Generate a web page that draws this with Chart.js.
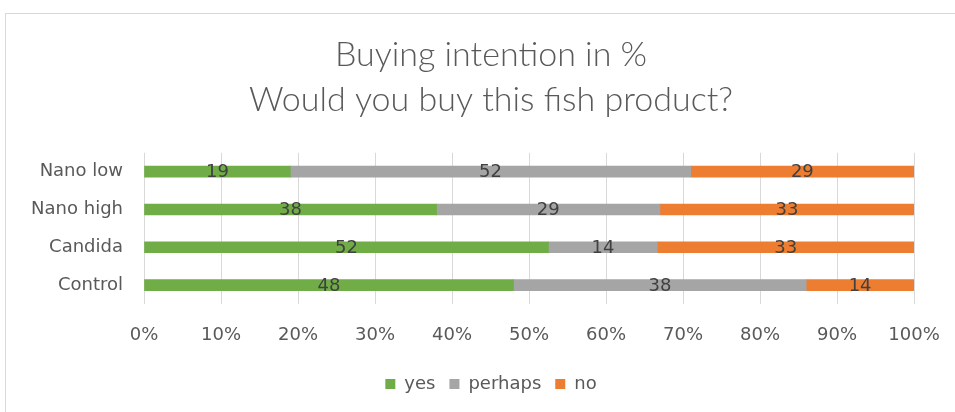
<!DOCTYPE html>
<html>
<head>
<meta charset="utf-8">
<title>Buying intention</title>
<script src="https://cdn.jsdelivr.net/npm/chart.js@4.4.0/dist/chart.umd.min.js"></script>
<style>
  html, body { margin: 0; padding: 0; background: #fff; }
  #wrap { position: relative; width: 955px; height: 412px; overflow: hidden; }
  #frame { position: absolute; left: 5px; top: 13px; width: 980px; height: 440px; border: 1px solid #d9d9d9; }
  #chart { position: absolute; left: 0; top: 0; }
</style>
</head>
<body>
<div id="wrap">
  <div id="frame"></div>
  <canvas id="chart" width="955" height="412"></canvas>
</div>
<script>
// answers per group, in percent (rounded as shown on the bars)
const categories = ['Nano low', 'Nano high', 'Candida', 'Control'];
const yesValues = [19, 38, 52, 48];
const perhapsValues = [52, 29, 14, 38];
const noValues = [29, 33, 33, 14];
const tickLabels = ['0%', '10%', '20%', '30%', '40%', '50%', '60%', '70%', '80%', '90%', '100%'];

const seriesNames = ['yes', 'perhaps', 'no'];
const seriesColors = ['#70ad47', '#a5a5a5', '#ed7d31'];
const seriesValues = [yesValues, perhapsValues, noValues];

// 100% stacked: each row scaled to its own total
const rowTotals = categories.map((c, i) => yesValues[i] + perhapsValues[i] + noValues[i]);

const datasets = seriesValues.map((vals, s) => ({
    label: seriesNames[s],
    data: vals.map((v, i) => v / rowTotals[i] * 100),
    rawValues: vals,
    backgroundColor: seriesColors[s],
    borderWidth: 0,
    barThickness: 11
}));

Chart.defaults.font.family = '"DejaVu Sans", sans-serif';
Chart.defaults.font.size = 18;
Chart.defaults.color = '#595959';

// value labels in the middle of each segment
const barLabels = {
    id: 'barLabels',
    afterDatasetsDraw(chart) {
        const ctx = chart.ctx;
        ctx.save();
        ctx.font = '18px "DejaVu Sans", sans-serif';
        ctx.fillStyle = '#404040';
        ctx.textAlign = 'center';
        ctx.textBaseline = 'middle';
        chart.data.datasets.forEach((ds, di) => {
            chart.getDatasetMeta(di).data.forEach((bar, i) => {
                ctx.fillText(String(ds.rawValues[i]), (bar.x + bar.base) / 2, bar.y + 1);
            });
        });
        ctx.restore();
    }
};

// title and legend are centred on the whole frame, which runs past the right edge
const frameCentre = {
    id: 'frameCentre',
    afterLayout(chart) {
        [chart.titleBlock, chart.legend].forEach(box => {
            box.left = 5;
            box.right = 977;
            box.width = box.right - box.left;
        });
    }
};

new Chart(document.getElementById('chart'), {
    type: 'bar',
    data: { labels: categories, datasets: datasets },
    plugins: [barLabels, frameCentre],
    options: {
        indexAxis: 'y',
        responsive: false,
        animation: false,
        layout: { padding: { top: 0, left: 0, right: 41, bottom: 9 } },
        plugins: {
            title: {
                display: true,
                text: ['Buying intention in %', 'Would you buy this fish product?'],
                color: '#595959',
                font: { family: 'Lato, sans-serif', size: 34, weight: 300, lineHeight: 1.32 },
                padding: { top: 33, bottom: 30 }
            },
            legend: {
                position: 'bottom',
                labels: { boxWidth: 10, boxHeight: 10, padding: 14, color: '#595959', font: { size: 18 } }
            },
            tooltip: { enabled: false }
        },
        scales: {
            x: {
                stacked: true,
                min: 0,
                max: 100,
                ticks: {
                    stepSize: 10,
                    padding: 21,
                    color: '#595959',
                    callback: (v, i) => tickLabels[i]
                },
                grid: { color: '#d9d9d9', drawTicks: false },
                border: { display: false },
                afterFit: scale => {
                    scale.height = 57;
                    scale.paddingLeft = 0;
                    scale.paddingRight = 20;
                }
            },
            y: {
                stacked: true,
                ticks: { padding: 21, color: '#595959' },
                grid: { display: false, drawTicks: false },
                border: { display: false },
                afterFit: scale => { scale.width = 144; }
            }
        }
    }
});
</script>
</body>
</html>
